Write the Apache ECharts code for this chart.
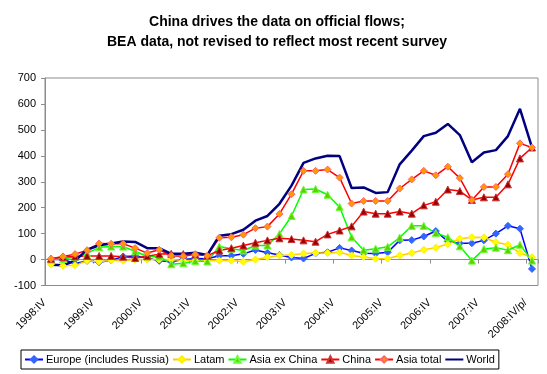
<!DOCTYPE html>
<html>
<head>
<meta charset="utf-8">
<script src="https://cdn.jsdelivr.net/npm/echarts@6/dist/echarts.min.js"></script>
<style>
html,body{margin:0;padding:0;background:#fff;}
#c{width:547px;height:374px;}
</style>
</head>
<body>
<div id="c"></div>
<script>
var categories = [
  '1998:IV',
  '1999:I','1999:II','1999:III','1999:IV',
  '2000:I','2000:II','2000:III','2000:IV',
  '2001:I','2001:II','2001:III','2001:IV',
  '2002:I','2002:II','2002:III','2002:IV',
  '2003:I','2003:II','2003:III','2003:IV',
  '2004:I','2004:II','2004:III','2004:IV',
  '2005:I','2005:II','2005:III','2005:IV',
  '2006:I','2006:II','2006:III','2006:IV',
  '2007:I','2007:II','2007:III','2007:IV',
  '2008:I','2008:II','2008:III','2008:IV/p/'
];
var europe = [0,0,-15,-5,-10,-3,12,14,6,-5,-8,0,4,3,15,15,22,37,26,18,8,4,24,28,45,35,24,23,28,74,75,89,110,70,63,63,74,100,130,119,-36];
var latam = [-18,-24,-22,-5,-8,-3,-5,0,0,0,0,-4,-4,-5,-4,-4,-8,0,9,16,18,23,25,25,28,16,10,3,4,16,25,38,46,60,80,86,85,67,57,25,9];
var asiaExChina = [0,2,10,24,47,50,50,32,12,12,-18,-14,-6,-7,50,42,35,54,54,99,168,270,272,250,203,86,36,42,49,85,130,130,102,86,51,-4,41,46,36,57,-4];
var china = [3,10,12,14,14,14,11,6,13,21,22,21,20,15,35,44,54,65,74,82,79,74,69,97,112,128,185,177,177,185,177,209,223,270,264,230,240,240,290,390,432];
var asiaTotal = [3,12,21,36,62,61,61,44,25,38,15,13,20,15,84,86,96,121,127,176,252,342,342,347,316,216,226,226,226,274,309,342,325,358,314,229,280,280,329,448,432];
var world = [-20,-22,-5,38,55,62,70,68,44,44,22,22,26,18,92,98,115,150,168,215,285,373,390,400,399,276,278,257,260,367,420,476,489,523,480,375,413,422,476,581,433];
var yTicks = {min:-100, max:700, interval:100};

var FONT = 'Liberation Sans, Arial, sans-serif';
var chart = echarts.init(document.getElementById('c'), null, {renderer:'canvas'});

function lineSeries(name, data, lineColor, symbol, symColor, borderColor, size) {
  return {
    name: name, type: 'line', data: data,
    xAxisIndex: 0, yAxisIndex: 0,
    symbol: symbol, symbolSize: size, showSymbol: true,
    lineStyle: {color: lineColor, width: 1.5},
    itemStyle: {color: symColor, borderColor: borderColor, borderWidth: 1},
    animation: false
  };
}

var option = {
  backgroundColor: '#fff',
  animation: false,
  title: {
    text: 'China drives the data on official flows;\nBEA data, not revised to reflect most recent survey',
    left: 272, top: 7, textAlign: 'center',
    textStyle: {fontFamily: FONT, fontSize: 14, fontWeight: 'bold', color: '#000', lineHeight: 20}
  },
  legend: {
    bottom: 5, left: 21,
    borderColor: '#000', borderWidth: 1, padding: [4, 4, 4, 3],
    itemWidth: 18, itemHeight: 8, itemGap: 3,
    textStyle: {fontFamily: FONT, fontSize: 11, color: '#000', padding: [0, 0, 0, -2]},
    data: [
      'Europe (includes Russia)', 'Latam', 'Asia ex China', 'China', 'Asia total',
      {name: 'World', itemStyle: {opacity: 0}}
    ]
  },
  grid: {
    left: 45, right: 9, top: 78, bottom: 88.5,
    show: true, borderColor: '#8c8c8c', borderWidth: 1, backgroundColor: 'transparent'
  },
  xAxis: [
    {
      type: 'category', data: categories, boundaryGap: true, position: 'bottom',
      axisLine: {show: false, onZero: false},
      axisTick: {show: false},
      axisLabel: {interval: 3, rotate: 45, margin: 9, padding: [0, 9, 0, 0], fontFamily: FONT, fontSize: 11, color: '#000'},
      splitLine: {show: false}
    },
    {
      type: 'category', data: categories, boundaryGap: true, position: 'bottom',
      axisLine: {show: true, onZero: true, lineStyle: {color: '#8c8c8c', width: 1}},
      axisTick: {show: true, interval: 3, length: 4, lineStyle: {color: '#8c8c8c'}},
      axisLabel: {show: false},
      splitLine: {show: false}
    }
  ],
  yAxis: {
    type: 'value', min: yTicks.min, max: yTicks.max, interval: yTicks.interval,
    axisLine: {show: true, lineStyle: {color: '#8c8c8c'}},
    axisTick: {show: true, length: 4, lineStyle: {color: '#8c8c8c'}},
    axisLabel: {margin: 9, fontFamily: FONT, fontSize: 11, color: '#000'},
    splitLine: {show: false}
  },
  series: [
    lineSeries('Europe (includes Russia)', europe, '#0000ff', 'diamond', '#3366ff', '#3366ff', 7),
    lineSeries('Latam', latam, '#ffcc00', 'diamond', '#ffff00', '#ffee00', 7),
    lineSeries('Asia ex China', asiaExChina, '#00ff00', 'triangle', '#66cc00', '#66ff33', 7),
    lineSeries('China', china, '#ff0000', 'triangle', '#990000', '#cc3333', 7),
    lineSeries('Asia total', asiaTotal, '#ff0000', 'diamond', '#ff9900', '#ff6666', 7),
    {
      name: 'World', type: 'line', data: world, xAxisIndex: 0, yAxisIndex: 0,
      symbol: 'none', showSymbol: false,
      lineStyle: {color: '#000080', width: 2.5},
      itemStyle: {color: '#000080'},
      animation: false
    }
  ]
};
chart.setOption(option);
</script>
</body>
</html>
